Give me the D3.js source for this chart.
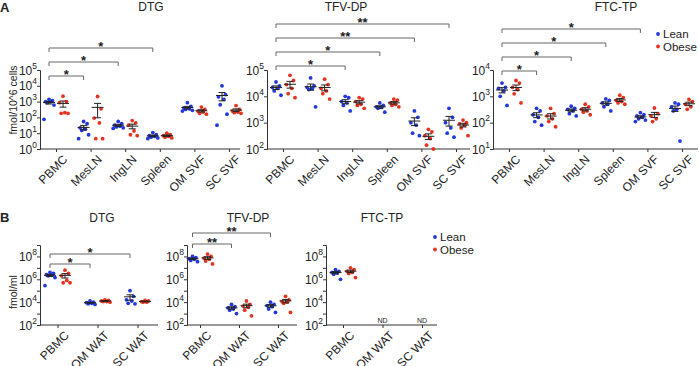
<!DOCTYPE html>
<html>
<head>
<meta charset="utf-8">
<script src="https://cdn.jsdelivr.net/npm/d3@7"></script>
<style>
  body { margin: 0; background: #fff; }
  text { font-family: "Liberation Sans", Arial, sans-serif; fill: #222; }
</style>
</head>
<body>
<svg id="chart" width="699" height="366"></svg>
<script>
// ---- categories ----
const tissueCats = ['PBMC', 'MesLN', 'IngLN', 'Spleen', 'OM SVF', 'SC SVF'];
const watCats = ['PBMC', 'OM WAT', 'SC WAT'];

// ---- A: fmol/10^6 cells, one array per tissue ----
const dtgTissueLean = [
  [1400, 1150, 1000, 1000, 850, 600, 75],
  [55, 40, 22, 18, 15, 8, 4.5],
  [56, 40, 32, 28, 25, 22, 20],
  [11, 8, 7, 6.3, 5.6, 5, 4.5],
  [850, 500, 400, 350, 320, 280, 250],
  [10000, 2800, 2000, 1400, 630, 160, 32]
];
const dtgTissueObese = [
  [2200, 1000, 850, 200, 180, 180],
  [2100, 350, 90, 45, 4.5, 4.5],
  [63, 45, 32, 14, 8, 7],
  [10, 8, 7, 6.3, 5.6, 5],
  [450, 320, 250, 220, 180, 160],
  [560, 320, 250, 220, 200, 180]
];
const tfvTissueLean = [
  [35000, 25000, 22000, 20000, 16000, 11000],
  [50000, 25000, 22000, 20000, 18000, 4000],
  [10000, 8900, 6300, 5600, 4500, 2800],
  [5600, 4500, 4000, 3800, 3500, 2500],
  [2800, 1600, 1000, 800, 400, 320],
  [3500, 1600, 1000, 630, 400, 280]
];
const tfvTissueObese = [
  [63000, 40000, 28000, 20000, 12600, 8900],
  [45000, 28000, 20000, 16000, 12600, 7900],
  [8900, 7900, 6300, 5000, 4500, 3500],
  [7900, 7100, 5600, 5000, 4500, 4000],
  [560, 450, 320, 250, 140, 100],
  [1250, 1000, 900, 800, 630, 320]
];
const ftcTissueLean = [
  [3200, 2200, 2000, 1600, 1000, 450],
  [350, 280, 200, 160, 110, 80],
  [420, 350, 320, 280, 220, 180],
  [800, 700, 560, 500, 400, 280],
  [240, 200, 180, 160, 140, 125, 110],
  [560, 500, 400, 320, 280, 20]
];
const ftcTissueObese = [
  [4000, 3200, 2200, 1800, 1250, 560],
  [350, 220, 180, 140, 110, 70],
  [500, 400, 320, 280, 250, 200],
  [1100, 900, 700, 630, 560, 500],
  [360, 220, 180, 140, 110],
  [760, 630, 500, 400, 320]
];

// ---- B: fmol/ml ----
const dtgWatLean = [
  [4.0e6, 3.2e6, 2.5e6, 2.2e6, 2.0e6, 1.4e6, 2.8e5],
  [12600, 10000, 8900, 7900, 7100, 6300],
  [100000, 32000, 16000, 12600, 7900, 7100]
];
const dtgWatObese = [
  [6.3e6, 3.2e6, 2.0e6, 7.9e5, 5e5, 5e5],
  [16000, 14000, 12600, 11200, 11200, 10000],
  [14000, 12600, 11200, 10000, 10000]
];
const tfvWatLean = [
  [1e8, 7.9e7, 6.3e7, 5.6e7, 4.5e7, 3.5e7],
  [6300, 4000, 3200, 2500, 2000, 1000],
  [10000, 6300, 5000, 4000, 2500, 1250]
];
const tfvWatObese = [
  [1.6e8, 1e8, 7.1e7, 5.6e7, 4e7, 2.2e7],
  [12600, 6300, 4500, 3500, 2000, 630],
  [32000, 16000, 11200, 10000, 7900, 1250]
];
const ftcWatLean = [
  [7.1e6, 5e6, 4e6, 3.5e6, 2.8e6, 1e6],
  null,
  null
];
const ftcWatObese = [
  [1e7, 7.1e6, 5e6, 4e6, 3.2e6, 1.4e6],
  null,
  null
];

// ---- significance vs PBMC (lean), lowest bracket first ----
const dtgTissueSig = [['MesLN', '*'], ['IngLN', '*'], ['Spleen', '*']];
const tfvTissueSig = [['IngLN', '*'], ['Spleen', '*'], ['OM SVF', '**'], ['SC SVF', '**']];
const ftcTissueSig = [['MesLN', '*'], ['IngLN', '*'], ['Spleen', '*'], ['OM SVF', '*']];
const dtgWatSig = [['OM WAT', '*'], ['SC WAT', '*']];
const tfvWatSig = [['OM WAT', '**'], ['SC WAT', '**']];
const ftcWatSig = [];

const groupNames = ['Lean', 'Obese'];
const groupColors = ['#2338dc', '#e5331f'];

const svg = d3.select('#chart');

// horizontal scatter for dots, by rank inside the group
const jitter = [0, 3.5, -3.5, 1.8, -1.8, 5, -5];

function meanSem(v) {
  const m = d3.mean(v);
  const sem = v.length > 1 ? d3.deviation(v) / Math.sqrt(v.length) : 0;
  return [m, sem];
}

function drawPanel(p) {
  const g = svg.append('g');
  const x = d3.scalePoint().domain(p.cats).range([p.c0, p.c1]);
  const y = d3.scaleLog().domain(p.yDomain).range([p.yBot, p.yTop]);
  const off = p.off || 7;

  // y axis
  const decades = d3.range(Math.log10(p.yDomain[0]), Math.log10(p.yDomain[1]) + 1).map(e => Math.pow(10, e));
  const yAx = g.append('g')
    .attr('transform', 'translate(' + p.x0 + ',0)')
    .call(d3.axisLeft(y).tickValues(decades).tickFormat(() => '').tickSize(3));
  yAx.selectAll('path, line').attr('stroke', '#333');
  decades.forEach(v => {
    const e = Math.round(Math.log10(v));
    if (p.labelEvery && e % p.labelEvery !== 0) return;
    const t = g.append('text')
      .attr('x', p.x0 - 3)
      .attr('y', y(v) + 4.5)
      .attr('text-anchor', 'end')
      .style('font-size', '12px');
    t.append('tspan').text('10');
    t.append('tspan').attr('dy', -6).style('font-size', '8.5px').text(e);
  });

  // x axis
  const xAx = g.append('g')
    .attr('transform', 'translate(0,' + p.yBot + ')')
    .call(d3.axisBottom(x).tickSize(3).tickFormat(''));
  xAx.select('.domain').remove();
  xAx.selectAll('line').attr('stroke', '#333');
  g.append('line')
    .attr('x1', p.x0).attr('x2', p.x1)
    .attr('y1', p.yBot).attr('y2', p.yBot)
    .attr('stroke', '#333');
  g.selectAll('.xlab')
    .data(p.cats)
    .enter().append('text')
      .attr('class', 'xlab')
      .attr('text-anchor', 'end')
      .attr('transform', d => 'translate(' + (x(d) + 6) + ',' + (p.yBot + 5) + ') rotate(-45)')
      .attr('dy', '0.72em')
      .style('font-size', '12px')
      .text(d => d);

  // title
  g.append('text')
    .attr('x', p.titleX).attr('y', p.titleY)
    .attr('text-anchor', 'middle')
    .style('font-size', '12px')
    .text(p.title);

  // dots + mean/SEM
  p.series.forEach((vals, si) => {
    const color = groupColors[si];
    const dx = si === 0 ? -off : off;
    vals.forEach((v, ci) => {
      const cx = x(p.cats[ci]) + dx;
      if (!v) return;
      const sorted = v.slice().sort((a, b) => b - a);
      g.selectAll(null)
        .data(sorted)
        .enter().append('circle')
          .attr('cx', (d, i) => cx + jitter[i % jitter.length])
          .attr('cy', d => y(d))
          .attr('r', 1.9)
          .attr('fill', color);
      const [m, sem] = meanSem(v);
      const lo = Math.max(m - sem, p.yDomain[0]);
      const hi = m + sem;
      const eb = g.append('g').attr('stroke', '#222').attr('stroke-width', 1);
      eb.append('line').attr('x1', cx).attr('x2', cx).attr('y1', y(lo)).attr('y2', y(hi));
      eb.append('line').attr('x1', cx - 6).attr('x2', cx + 6).attr('y1', y(m)).attr('y2', y(m));
      eb.append('line').attr('x1', cx - 3.5).attr('x2', cx + 3.5).attr('y1', y(hi)).attr('y2', y(hi));
      eb.append('line').attr('x1', cx - 3.5).attr('x2', cx + 3.5).attr('y1', y(lo)).attr('y2', y(lo));
    });
  });

  // ND labels
  p.cats.forEach((c, ci) => {
    if (p.series.every(s => !s[ci])) {
      g.append('text')
        .attr('x', x(c)).attr('y', p.yBot - 2)
        .attr('text-anchor', 'middle')
        .style('font-size', '7px')
        .text('ND');
    }
  });

  // significance brackets
  const xa = x(p.cats[0]) - off;
  p.sig.forEach((s, i) => {
    const by = p.bracketY - p.bracketStep * i;
    const xb = x(s[0]) - off;
    g.append('path')
      .attr('d', 'M' + xa + ',' + (by + 4) + 'V' + by + 'H' + xb + 'V' + (by + 4))
      .attr('fill', 'none')
      .attr('stroke', '#666')
      .attr('stroke-width', 1);
    g.append('text')
      .attr('x', (xa + xb) / 2).attr('y', by + 3)
      .attr('text-anchor', 'middle')
      .style('font-size', '13px')
      .style('font-weight', 'bold')
      .text(s[1]);
  });
}

function legend(lx, ly) {
  groupNames.forEach((n, i) => {
    svg.append('circle').attr('cx', lx).attr('cy', ly + i * 12.5).attr('r', 1.9).attr('fill', groupColors[i]);
    svg.append('text').attr('x', lx + 5).attr('y', ly + i * 12.5 + 4)
      .style('font-size', '11.5px').text(n);
  });
}

// ---- panel A ----
const panelsA = [
  { title: 'DTG', titleX: 151, x0: 40, x1: 240, yDomain: [1, 1e5], sig: dtgTissueSig, bracketY: 76,
    series: [dtgTissueLean, dtgTissueObese] },
  { title: 'TFV-DP', titleX: 346, x0: 267, x1: 470, yDomain: [1e2, 1e5], sig: tfvTissueSig, bracketY: 66,
    series: [tfvTissueLean, tfvTissueObese] },
  { title: 'FTC-TP', titleX: 616, x0: 493, x1: 698, yDomain: [1e1, 1e4], sig: ftcTissueSig, bracketY: 71,
    series: [ftcTissueLean, ftcTissueObese] }
];
panelsA.forEach(p => drawPanel(Object.assign({
  cats: tissueCats, c0: p.x0 + 16, c1: p.x0 + 189, yTop: 70, yBot: 149, titleY: 11, bracketStep: 14
}, p)));

// ---- panel B ----
const panelsB = [
  { title: 'DTG', titleX: 102, x0: 40, x1: 158, c0: 57.5, c1: 137.5, sig: dtgWatSig, bracketY: 264, bracketStep: 10,
    series: [dtgWatLean, dtgWatObese] },
  { title: 'TFV-DP', titleX: 248, x0: 187, x1: 297, c0: 200, c1: 278, sig: tfvWatSig, bracketY: 244, bracketStep: 11,
    series: [tfvWatLean, tfvWatObese] },
  { title: 'FTC-TP', titleX: 382, x0: 326, x1: 437, c0: 343, c1: 422, sig: ftcWatSig, bracketY: 244, bracketStep: 11,
    series: [ftcWatLean, ftcWatObese] }
];
panelsB.forEach(p => drawPanel(Object.assign({
  cats: watCats, yDomain: [1e2, 1e9], yTop: 245, yBot: 325, titleY: 222, labelEvery: 2, off: 7.5
}, p)));

// y titles, panel letters, legends
svg.append('text').attr('transform', 'translate(17,100) rotate(-90)')
  .attr('text-anchor', 'middle').style('font-size', '10.5px').text('fmol/10^6 cells');
svg.append('text').attr('transform', 'translate(17,292) rotate(-90)')
  .attr('text-anchor', 'middle').style('font-size', '10.5px').text('fmol/ml');
svg.append('text').attr('x', 0).attr('y', 12).style('font-size', '13px').style('font-weight', 'bold').text('A');
svg.append('text').attr('x', 0).attr('y', 222).style('font-size', '13px').style('font-weight', 'bold').text('B');
legend(658, 34);
legend(435, 237);
</script>
</body>
</html>
